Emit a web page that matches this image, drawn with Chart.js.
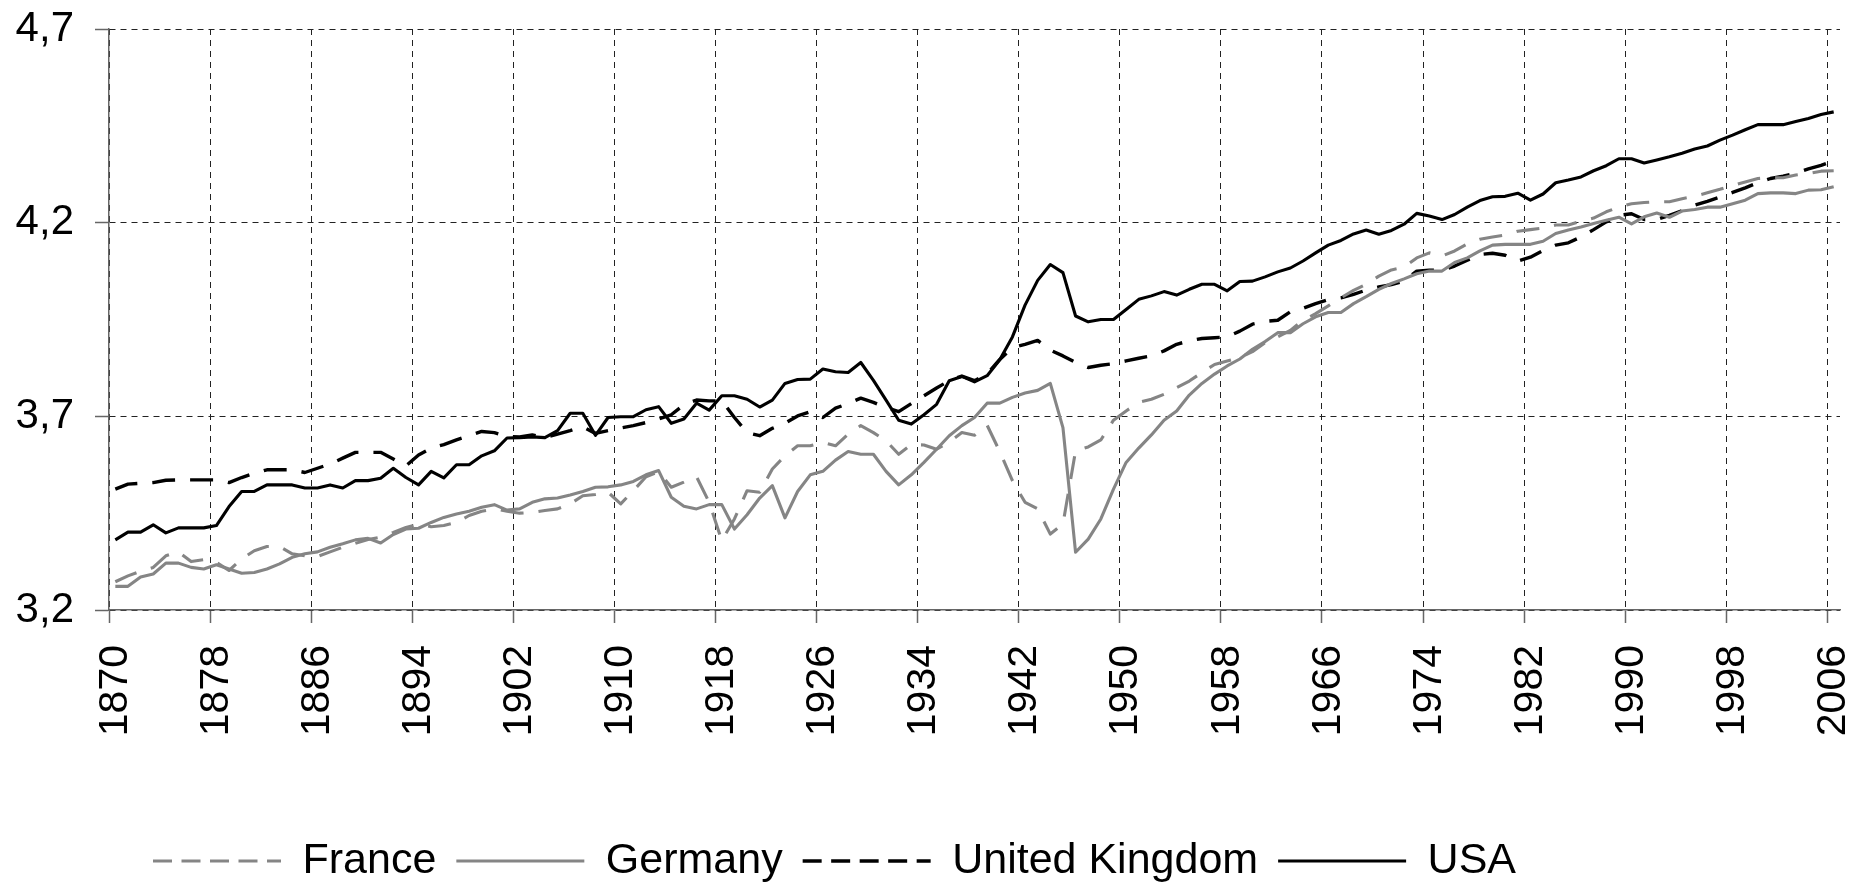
<!DOCTYPE html>
<html>
<head>
<meta charset="utf-8">
<script src="https://cdn.jsdelivr.net/npm/chart.js@4.4.1/dist/chart.umd.min.js"></script>
<style>
  html, body { margin: 0; padding: 0; background: #fff; }
  #wrap { width: 1863px; height: 884px; }
</style>
</head>
<body>
<div id="wrap"><canvas id="chart"></canvas></div>
<script>
// one category per year, 1870..2006
const years = Array.from({ length: 137 }, (_, i) => 1870 + i);
const xTickYears = [1870, 1878, 1886, 1894, 1902, 1910, 1918, 1926, 1934, 1942,
  1950, 1958, 1966, 1974, 1982, 1990, 1998, 2006];
const yTicks = [3.2, 3.7, 4.2, 4.7];

const france = [
  3.273, 3.288, 3.300, 3.310, 3.340, 3.350, 3.325, 3.330, 3.323, 3.302,
  3.332, 3.353, 3.364, 3.364, 3.345, 3.340, 3.338, 3.350, 3.362, 3.372,
  3.382, 3.388, 3.400, 3.413, 3.422, 3.415, 3.418, 3.426, 3.444, 3.455,
  3.461, 3.455, 3.450, 3.452, 3.457, 3.461, 3.474, 3.495, 3.498, 3.504,
  3.474, 3.508, 3.544, 3.557, 3.517, 3.530, 3.544, 3.478, 3.379, 3.435,
  3.508, 3.504, 3.564, 3.598, 3.624, 3.624, 3.633, 3.624, 3.654, 3.676,
  3.658, 3.637, 3.602, 3.627, 3.626, 3.615, 3.633, 3.658, 3.651, 3.677,
  3.609, 3.534, 3.478, 3.461, 3.396, 3.422, 3.611, 3.621, 3.639, 3.690,
  3.714, 3.736, 3.744, 3.757, 3.774, 3.791, 3.813, 3.834, 3.843, 3.852,
  3.867, 3.890, 3.905, 3.922, 3.948, 3.965, 3.985, 4.006, 4.025, 4.041,
  4.062, 4.078, 4.085, 4.109, 4.122, 4.114, 4.127, 4.145, 4.157, 4.163,
  4.168, 4.178, 4.182, 4.186, 4.194, 4.194, 4.204, 4.212, 4.228, 4.240,
  4.249, 4.252, 4.254, 4.254, 4.262, 4.268, 4.277, 4.286, 4.296, 4.305,
  4.314, 4.316, 4.316, 4.323, 4.327, 4.333, 4.334
];
const germany = [
  3.261, 3.261, 3.285, 3.293, 3.321, 3.321, 3.310, 3.306, 3.317, 3.306,
  3.295, 3.297, 3.306, 3.319, 3.336, 3.345, 3.350, 3.362, 3.371, 3.381,
  3.385, 3.373, 3.395, 3.409, 3.411, 3.426, 3.439, 3.448, 3.455, 3.465,
  3.472, 3.458, 3.461, 3.478, 3.487, 3.489, 3.497, 3.506, 3.517, 3.518,
  3.523, 3.532, 3.549, 3.560, 3.491, 3.468, 3.461, 3.472, 3.472, 3.409,
  3.446, 3.489, 3.521, 3.438, 3.506, 3.549, 3.558, 3.587, 3.609, 3.602,
  3.602, 3.558, 3.523, 3.549, 3.581, 3.615, 3.650, 3.676, 3.697, 3.734,
  3.734, 3.749, 3.760, 3.767, 3.785, 3.671, 3.349, 3.383, 3.435, 3.512,
  3.581, 3.618, 3.652, 3.690, 3.714, 3.755, 3.785, 3.809, 3.830, 3.848,
  3.873, 3.893, 3.916, 3.916, 3.939, 3.957, 3.968, 3.968, 3.991, 4.009,
  4.028, 4.043, 4.055, 4.068, 4.075, 4.075, 4.097, 4.109, 4.127, 4.142,
  4.144, 4.144, 4.144, 4.152, 4.172, 4.181, 4.189, 4.198, 4.206, 4.214,
  4.197, 4.215, 4.225, 4.214, 4.230, 4.234, 4.240, 4.240, 4.249, 4.258,
  4.275, 4.277, 4.277, 4.275, 4.284, 4.285, 4.293
];
const uk = [
  3.512, 3.525, 3.527, 3.529, 3.535, 3.536, 3.536, 3.536, 3.536, 3.529,
  3.542, 3.553, 3.562, 3.562, 3.562, 3.555, 3.566, 3.577, 3.592, 3.607,
  3.607, 3.607, 3.590, 3.572, 3.600, 3.618, 3.627, 3.639, 3.650, 3.661,
  3.658, 3.648, 3.647, 3.652, 3.645, 3.654, 3.663, 3.673, 3.656, 3.663,
  3.670, 3.676, 3.684, 3.693, 3.704, 3.730, 3.742, 3.740, 3.740, 3.697,
  3.658, 3.650, 3.669, 3.682, 3.701, 3.712, 3.697, 3.721, 3.733, 3.747,
  3.736, 3.723, 3.712, 3.733, 3.753, 3.773, 3.792, 3.804, 3.792, 3.809,
  3.847, 3.877, 3.886, 3.896, 3.871, 3.856, 3.839, 3.826, 3.832, 3.836,
  3.843, 3.850, 3.856, 3.869, 3.886, 3.895, 3.901, 3.903, 3.905, 3.920,
  3.938, 3.945, 3.948, 3.970, 3.979, 3.991, 4.001, 4.006, 4.015, 4.026,
  4.034, 4.040, 4.049, 4.075, 4.077, 4.077, 4.088, 4.103, 4.118, 4.121,
  4.116, 4.101, 4.111, 4.128, 4.142, 4.148, 4.163, 4.182, 4.202, 4.219,
  4.223, 4.208, 4.208, 4.219, 4.231, 4.245, 4.255, 4.266, 4.278, 4.290,
  4.303, 4.314, 4.320, 4.328, 4.339, 4.348, 4.360
];
const usa = [
  3.381, 3.401, 3.401, 3.420, 3.399, 3.412, 3.412, 3.412, 3.418, 3.467,
  3.506, 3.506, 3.523, 3.523, 3.523, 3.515, 3.515, 3.523, 3.515, 3.534,
  3.534, 3.540, 3.566, 3.542, 3.523, 3.558, 3.541, 3.575, 3.575, 3.598,
  3.611, 3.644, 3.645, 3.647, 3.645, 3.663, 3.708, 3.708, 3.651, 3.697,
  3.699, 3.699, 3.717, 3.725, 3.682, 3.693, 3.734, 3.716, 3.753, 3.753,
  3.744, 3.724, 3.742, 3.785, 3.795, 3.796, 3.822, 3.815, 3.813, 3.839,
  3.793, 3.742, 3.690, 3.680, 3.704, 3.731, 3.792, 3.803, 3.789, 3.805,
  3.846, 3.905, 3.987, 4.051, 4.092, 4.071, 3.959, 3.944, 3.950, 3.950,
  3.976, 4.002, 4.011, 4.022, 4.013, 4.028, 4.041, 4.041, 4.024, 4.048,
  4.049, 4.060, 4.073, 4.083, 4.101, 4.122, 4.142, 4.154, 4.171, 4.181,
  4.170, 4.180, 4.196, 4.224, 4.217, 4.208, 4.221, 4.240, 4.257, 4.267,
  4.268, 4.276, 4.258, 4.274, 4.303, 4.310, 4.318, 4.334, 4.347, 4.365,
  4.365, 4.354, 4.362, 4.370, 4.379, 4.390, 4.398, 4.413, 4.426, 4.440,
  4.453, 4.453, 4.453, 4.461, 4.469, 4.479, 4.486
];

const GREY = "#858585";
const FONT = "'Liberation Sans', Arial, sans-serif";
Chart.defaults.font.family = FONT;
Chart.defaults.color = "#000";

const isTickYear = (i) => xTickYears.includes(years[i]);

// legend box placed under the plot like in the original sheet
const legendSpot = {
  id: "legendSpot",
  afterLayout(chart) {
    const lg = chart.legend;
    if (!lg) return;
    lg.left = 133;
    lg.top = 819.5;
  }
};

new Chart(document.getElementById("chart"), {
  type: "line",
  data: {
    labels: years,
    datasets: [
      { label: "France", data: france, borderColor: GREY, borderWidth: 3.1, borderDash: [23, 15] },
      { label: "Germany", data: germany, borderColor: GREY, borderWidth: 3.1 },
      { label: "United Kingdom", data: uk, borderColor: "#000", borderWidth: 3.4, borderDash: [23, 15] },
      { label: "USA", data: usa, borderColor: "#000", borderWidth: 3.1 }
    ]
  },
  options: {
    responsive: true,
    maintainAspectRatio: false,
    animation: false,
    layout: { padding: { top: 29, right: 23, left: 0, bottom: 0 } },
    elements: {
      point: { radius: 0, hoverRadius: 0 },
      line: { tension: 0, fill: false, borderJoinStyle: "round", backgroundColor: "transparent" }
    },
    plugins: {
      tooltip: { enabled: false },
      legend: {
        position: "bottom",
        align: "start",
        labels: {
          usePointStyle: true,
          pointStyle: "line",
          pointStyleWidth: 128,
          padding: 20,
          color: "#000",
          font: { size: 43 },
          generateLabels(chart) {
            const items = Chart.defaults.plugins.legend.labels.generateLabels(chart);
            items.forEach(it => {
              const ds = chart.data.datasets[it.datasetIndex];
              it.lineWidth = ds.borderWidth;
              it.strokeStyle = ds.borderColor;
              it.lineDash = ds.borderDash ? [19, 9.5] : [];
            });
            return items;
          }
        }
      }
    },
    scales: {
      x: {
        type: "category",
        offset: true,
        grid: {
          offset: true,
          drawOnChartArea: true,
          tickLength: 13,
          color: (ctx) => isTickYear(ctx.index) ? "#222" : "transparent",
          tickColor: (ctx) => isTickYear(ctx.index) ? "#666" : "transparent",
          tickWidth: 1.5,
          lineWidth: 1
        },
        border: { display: true, color: "#666", width: 1.5, dash: [6, 5] },
        ticks: {
          autoSkip: false,
          minRotation: 90,
          maxRotation: 90,
          padding: 22,
          color: "#000",
          font: { size: 41 },
          callback: function (value, index) {
            return isTickYear(index) ? String(years[index]) : "";
          }
        },
        afterFit(s) {
          const lh = s.chart.legend ? s.chart.legend.height : 0;
          s.height = s.chart.height - 610 - lh;
          s.paddingLeft = 0;
          s.paddingRight = 0;
        }
      },
      y: {
        type: "linear",
        min: 3.2,
        max: 4.7,
        grid: {
          color: "#222",
          lineWidth: 1,
          tickLength: 14,
          tickColor: "#666",
          tickWidth: 1.5
        },
        border: { display: true, color: "#666", width: 1.5, dash: [6, 5] },
        afterBuildTicks(s) {
          s.ticks = yTicks.map(v => ({ value: v }));
        },
        ticks: {
          padding: 21,
          color: "#000",
          font: { size: 42 },
          callback: (v) => Number(v).toFixed(1).replace(".", ",")
        },
        afterFit(s) {
          s.width = 109;
          s.paddingTop = 0;
          s.paddingBottom = 0;
        }
      }
    }
  },
  plugins: [legendSpot]
});
</script>
</body>
</html>
